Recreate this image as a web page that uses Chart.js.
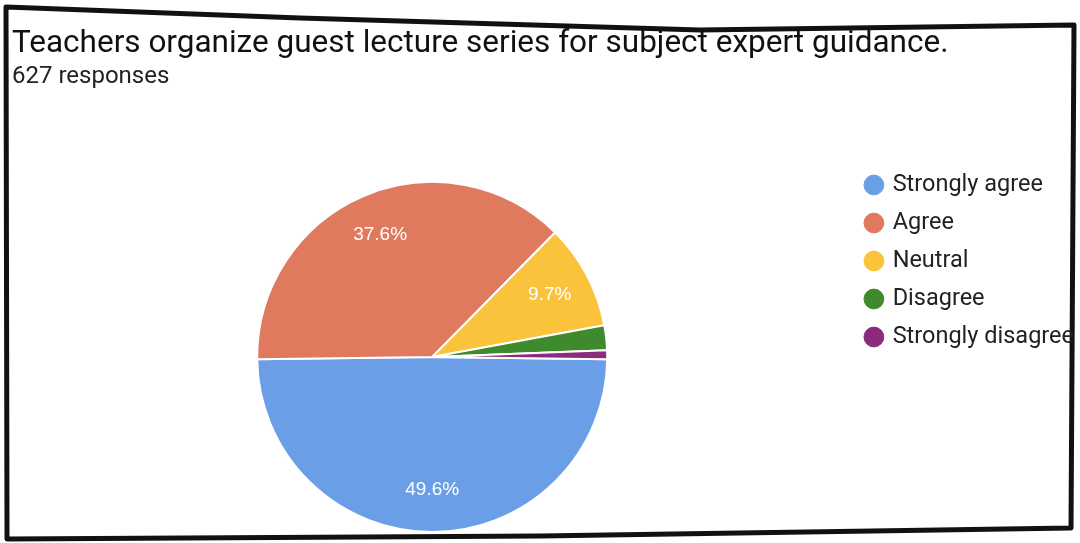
<!DOCTYPE html>
<html>
<head>
<meta charset="utf-8">
<script src="https://cdn.jsdelivr.net/npm/chart.js@4.4.1/dist/chart.umd.min.js"></script>
<style>
  html, body { margin: 0; padding: 0; background: #ffffff; }
  #wrap { position: relative; width: 1080px; height: 543px; }
</style>
</head>
<body>
<div id="wrap"><canvas id="c" width="1080" height="543"></canvas></div>
<script>
const titleText = 'Teachers organize guest lecture series for subject expert guidance.';
const subtitleText = '627 responses';
const categories = ['Strongly agree', 'Agree', 'Neutral', 'Disagree', 'Strongly disagree'];
const percentages = [49.6, 37.6, 9.7, 2.3, 0.8];
const sliceColors = ['#6a9fe8', '#e07a5f', '#fbc33c', '#3f8a2c', '#8a2b7e'];

const framePlugin = {
  id: 'frame',
  beforeDraw(chart) {
    const ctx = chart.ctx;
    ctx.save();
    ctx.fillStyle = '#ffffff';
    ctx.fillRect(0, 0, chart.width, chart.height);
    ctx.strokeStyle = '#111111';
    ctx.lineWidth = 5;
    ctx.lineJoin = 'round';
    ctx.beginPath();
    ctx.moveTo(6, 7);
    ctx.lineTo(300, 18);
    ctx.lineTo(700, 30);
    ctx.lineTo(1074, 25);
    ctx.lineTo(1071, 528);
    ctx.lineTo(540, 536);
    ctx.lineTo(7, 539);
    ctx.closePath();
    ctx.stroke();
    ctx.restore();
  }
};

const sliceLabels = {
  id: 'sliceLabels',
  afterDatasetsDraw(chart) {
    const ctx = chart.ctx;
    const meta = chart.getDatasetMeta(0);
    ctx.save();
    ctx.font = '19px "Liberation Sans", Arial, sans-serif';
    ctx.fillStyle = '#ffffff';
    ctx.textAlign = 'center';
    ctx.textBaseline = 'middle';
    meta.data.forEach((arc, i) => {
      const v = percentages[i];
      if (v < 5) return;
      const p = arc.getProps(['x', 'y', 'startAngle', 'endAngle', 'outerRadius'], true);
      const mid = (p.startAngle + p.endAngle) / 2;
      const r = p.outerRadius * 0.76;
      ctx.fillText(v.toFixed(1) + '%', p.x + Math.cos(mid) * r, p.y + Math.sin(mid) * r);
    });
    ctx.restore();
  }
};

new Chart(document.getElementById('c'), {
  type: 'pie',
  data: {
    labels: categories,
    datasets: [{
      data: percentages,
      backgroundColor: sliceColors,
      borderColor: '#ffffff',
      borderWidth: 2
    }]
  },
  options: {
    responsive: false,
    animation: false,
    devicePixelRatio: 1,
    rotation: 90.7,
    layout: { padding: { left: 12, right: -4, top: 8, bottom: 10 } },
    plugins: {
      tooltip: { enabled: false },
      title: {
        display: true,
        text: titleText,
        align: 'start',
        color: '#111111',
        fullSize: true,
        font: { family: 'Roboto', size: 31.5, weight: 'normal' },
        padding: { top: 17, bottom: 0 }
      },
      subtitle: {
        display: true,
        text: subtitleText,
        align: 'start',
        color: '#222222',
        fullSize: false,
        font: { family: 'Roboto', size: 24, weight: 'normal' },
        padding: { top: 0, bottom: 89.4 }
      },
      legend: {
        position: 'right',
        align: 'start',
        fullSize: true,
        title: { display: true, text: '', font: { size: 10 }, padding: { top: 138.75, bottom: 0 } },
        labels: {
          usePointStyle: true,
          pointStyle: 'circle',
          boxWidth: 14,
          boxHeight: 14,
          padding: 14.5,
          color: '#222222',
          font: { family: 'Roboto', size: 23.5 },
          generateLabels(chart) {
            const base = Chart.overrides.pie.plugins.legend.labels.generateLabels(chart);
            return base.map(l => Object.assign(l, { strokeStyle: l.fillStyle, lineWidth: 1 }));
          }
        }
      }
    }
  },
  plugins: [framePlugin, sliceLabels]
});
</script>
</body>
</html>
